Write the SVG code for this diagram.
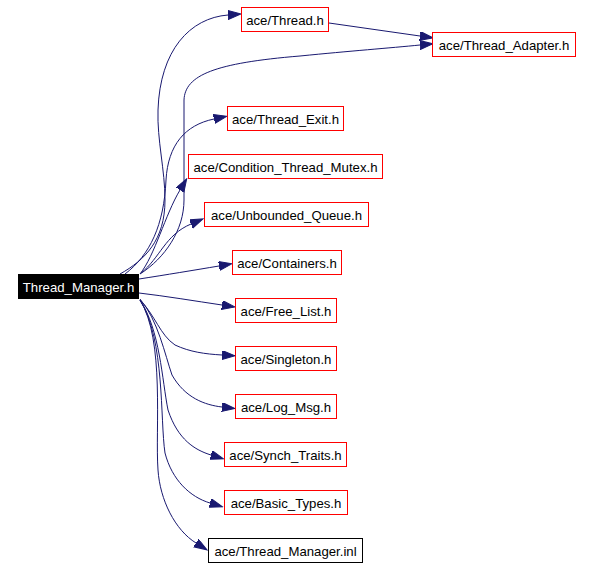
<svg xmlns="http://www.w3.org/2000/svg" width="592" height="568" viewBox="0 0 592 568">
<style>
.n rect{fill:#ffffff;stroke:#ff0000;stroke-width:1}
.n.b rect{stroke:#000000}
.n text{font-family:"Liberation Sans",Arial,sans-serif;font-size:13.2px;fill:#000000;text-anchor:middle}
#root rect{fill:#000000;stroke:#000000}
#root text{fill:#ffffff}
#edges path{fill:none;stroke:#191970;stroke-width:1;marker-end:url(#ah)}
</style>
<defs>
<marker id="ah" markerUnits="userSpaceOnUse" markerWidth="14" markerHeight="10" refX="0" refY="4.5" orient="auto" viewBox="0 0 14 10">
<path d="M0,0 L13,4.5 L0,9 z" fill="#191970" stroke="#191970" stroke-width="1"/>
</marker>
</defs>
<rect width="592" height="568" fill="#ffffff"/>
<g id="edges">
<path d="M120,274 C145,260 165,240 165,200 C165,170 157,140 158,110 C160,50 190,18 228,15"/>
<path d="M329,23 L420,36"/>
<path d="M140,274 C165,258 184,230 184,200 L184,100 C185,75 215,63 300,56 C350,51 390,48 420,45"/>
<path d="M125,274 C150,255 164,225 166,180 C168,145 185,125 214,119"/>
<path d="M140,274 C155,255 165,215 180,190"/>
<path d="M141,273 C160,258 165,235 191,224"/>
<path d="M139,279 C165,275 195,270 219,266"/>
<path d="M139,293 C165,296 195,301 222,305"/>
<path d="M140,300 C155,315 160,335 175,345 C190,352 205,354 222,355"/>
<path d="M140,299 C158,320 165,355 172,375 C185,398 205,405 222,407"/>
<path d="M140,300 C160,330 162,380 168,410 C178,440 195,450 211,455"/>
<path d="M140,300 C165,340 160,420 165,453 C172,480 190,497 210,503"/>
<path d="M140,300 C165,340 155,430 158,470 C160,500 175,530 196,543"/>
</g>
<g id="root" class="n"><rect x="18.5" y="274.5" width="120" height="24"/><text x="78.5" y="291.5">Thread_Manager.h</text></g>
<g id="n_thread" class="n"><rect x="241.5" y="7.5" width="87" height="24"/><text x="285" y="24.5">ace/Thread.h</text></g>
<g id="n_adapter" class="n"><rect x="432.5" y="32.5" width="143" height="24"/><text x="504" y="49.5">ace/Thread_Adapter.h</text></g>
<g id="n_exit" class="n"><rect x="227.5" y="106.5" width="116" height="24"/><text x="285.5" y="123.5">ace/Thread_Exit.h</text></g>
<g id="n_cond" class="n"><rect x="188.5" y="154.5" width="194" height="24"/><text x="285.5" y="171.5">ace/Condition_Thread_Mutex.h</text></g>
<g id="n_unb" class="n"><rect x="204.5" y="202.5" width="164" height="24"/><text x="286.5" y="219.5">ace/Unbounded_Queue.h</text></g>
<g id="n_cont" class="n"><rect x="232.5" y="250.5" width="109" height="24"/><text x="287" y="267.5">ace/Containers.h</text></g>
<g id="n_free" class="n"><rect x="235.5" y="298.5" width="101" height="24"/><text x="286" y="315.5">ace/Free_List.h</text></g>
<g id="n_single" class="n"><rect x="235.5" y="346.5" width="101" height="24"/><text x="286" y="363.5">ace/Singleton.h</text></g>
<g id="n_log" class="n"><rect x="235.5" y="394.5" width="101" height="24"/><text x="286" y="411.5">ace/Log_Msg.h</text></g>
<g id="n_synch" class="n"><rect x="224.5" y="442.5" width="122" height="24"/><text x="285.5" y="459.5">ace/Synch_Traits.h</text></g>
<g id="n_basic" class="n"><rect x="224.5" y="490.5" width="123" height="24"/><text x="286" y="507.5">ace/Basic_Types.h</text></g>
<g id="n_inl" class="n b"><rect x="208.5" y="538.5" width="154" height="24"/><text x="285.5" y="555.5">ace/Thread_Manager.inl</text></g>
</svg>
